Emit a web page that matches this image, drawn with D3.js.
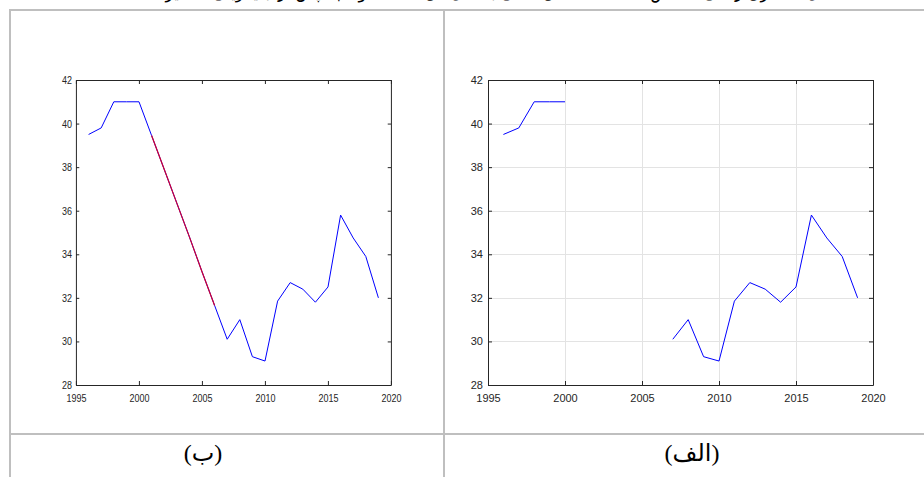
<!DOCTYPE html>
<html>
<head>
<meta charset="utf-8">
<script src="https://cdn.jsdelivr.net/npm/d3@7"></script>
<style>
  body { margin: 0; background: #fff; }
  svg { display: block; }
</style>
</head>
<body>
<svg id="fig"></svg>
<script>
const svgWidth = 924;
const svgHeight = 477;

// data
var years = [1996, 1997, 1998, 1999, 2000, 2001, 2002, 2003, 2004, 2005, 2006, 2007,
             2008, 2009, 2010, 2011, 2012, 2013, 2014, 2015, 2016, 2017, 2018, 2019];
// (الف) series with the missing years
var rawValues = [39.5, 39.8, 41, 41, 41, null, null, null, null, null, null, 30.1,
                 31.0, 29.3, 29.1, 31.85, 32.7, 32.4, 31.8, 32.5, 35.8, 34.75, 33.9, 32.0];
// (ب) values put in for the missing years
var filledYears = [2001, 2002, 2003, 2004, 2005, 2006];
var filledValues = [39.45, 37.9, 36.35, 34.8, 33.2, 31.65];

var xTicks = [1995, 2000, 2005, 2010, 2015, 2020];
var yTicks = [28, 30, 32, 34, 36, 38, 40, 42];
var panelLabels = ["(ب)", "(الف)"];
var caption = "شکل ۲: سری زمانی شاخص؛ (الف) داده‌های اصلی با سال‌های گمشده و (ب) پس از جایگزینی مقادیر گمشده";

const plotW = 385;
const plotH = 305;
const axisColor = "#262626";

var svg = d3.select("#fig")
    .attr("width", svgWidth)
    .attr("height", svgHeight);

svg.append("rect").attr("width", svgWidth).attr("height", svgHeight).attr("fill", "#fff");

// caption above the table, only its lower edge is inside the picture
svg.append("text")
    .attr("x", 842)
    .attr("y", -2)
    .attr("direction", "rtl")
    .attr("text-anchor", "start")
    .attr("font-family", "DejaVu Sans")
    .attr("font-size", 18)
    .attr("textLength", 730)
    .attr("lengthAdjust", "spacingAndGlyphs")
    .attr("fill", "#000")
    .text(caption);

// table lines
var tbl = svg.append("g").attr("stroke", "#bfbfbf").attr("stroke-width", 2);
tbl.append("line").attr("x1", 9).attr("x2", svgWidth).attr("y1", 10).attr("y2", 10);
tbl.append("line").attr("x1", 10).attr("x2", 10).attr("y1", 9).attr("y2", svgHeight);
tbl.append("line").attr("x1", 444).attr("x2", 444).attr("y1", 9).attr("y2", svgHeight);
tbl.append("line").attr("x1", 9).attr("x2", svgWidth).attr("y1", 434).attr("y2", 434);

var x = d3.scaleLinear().domain([1995, 2020]).range([0, plotW]);
var y = d3.scaleLinear().domain([28, 42]).range([plotH, 0]);

function drawPanel(g, grid) {
    if (grid) {
        var gg = g.append("g").attr("stroke", "#e3e3e3").attr("stroke-width", 1);
        gg.selectAll(".vx").data(xTicks.slice(1, -1)).enter().append("line")
            .attr("x1", d => Math.round(x(d)) + 0.5).attr("x2", d => Math.round(x(d)) + 0.5)
            .attr("y1", 0).attr("y2", plotH);
        gg.selectAll(".hy").data(yTicks.slice(1, -1)).enter().append("line")
            .attr("x1", 0).attr("x2", plotW)
            .attr("y1", d => Math.round(y(d)) + 0.5).attr("y2", d => Math.round(y(d)) + 0.5);
    }

    var axes = [
        [d3.axisBottom(x).tickValues(xTicks).tickFormat(d3.format("d")), [0, plotH], true],
        [d3.axisTop(x).tickValues(xTicks), [0, 0], false],
        [d3.axisLeft(y).tickValues(yTicks).tickFormat(d3.format("d")), [0, 0], true],
        [d3.axisRight(y).tickValues(yTicks), [plotW, 0], false]
    ];
    axes.forEach(function(a) {
        var ax = a[0].tickSizeInner(-4).tickSizeOuter(0).tickPadding(5);
        var sel = g.append("g")
            .attr("transform", "translate(" + a[1][0] + "," + a[1][1] + ")")
            .call(ax);
        sel.select(".domain").attr("stroke", axisColor).attr("vector-effect", "non-scaling-stroke");
        sel.selectAll(".tick line").attr("stroke", axisColor).attr("vector-effect", "non-scaling-stroke");
        if (a[2]) {
            sel.selectAll(".tick text")
                .attr("fill", axisColor)
                .attr("font-family", "Liberation Sans, Arial, sans-serif")
                .attr("font-size", 11);
        } else {
            sel.selectAll(".tick text").remove();
        }
    });
}

var line = d3.line()
    .defined(d => d[1] != null)
    .x(d => x(d[0]))
    .y(d => y(d[1]));

// right panel (الف): gaps left open
var gA = svg.append("g").attr("transform", "translate(488,80)");
drawPanel(gA, true);
gA.append("path")
    .datum(years.map((yr, i) => [yr, rawValues[i]]))
    .attr("d", line)
    .attr("fill", "none")
    .attr("stroke", "#0000ff")
    .attr("stroke-width", 1);

// left panel (ب): same plot, narrower
var gB = svg.append("g").attr("transform", "translate(76,80) scale(" + (315 / plotW) + ",1)");
drawPanel(gB, false);
var fullB = years.map(function(yr, i) {
    var k = filledYears.indexOf(yr);
    return [yr, k >= 0 ? filledValues[k] : rawValues[i]];
});
gB.append("path")
    .datum(fullB)
    .attr("d", line)
    .attr("fill", "none")
    .attr("stroke", "#0000ff")
    .attr("stroke-width", 1)
    .attr("vector-effect", "non-scaling-stroke");
gB.append("path")
    .datum(filledYears.map((yr, i) => [yr, filledValues[i]]))
    .attr("d", line)
    .attr("fill", "none")
    .attr("stroke", "#cc0033")
    .attr("stroke-width", 1.2)
    .attr("vector-effect", "non-scaling-stroke");

// x labels sit a bit lower than d3's default
svg.selectAll(".tick text").each(function() {
    var t = d3.select(this);
    if (t.attr("dy") === "0.71em") t.attr("y", 9);
});

// panel labels under each chart
svg.selectAll(".plabel")
    .data(panelLabels)
    .enter().append("text")
    .attr("x", (d, i) => i === 0 ? 203 : 692)
    .attr("y", 461)
    .attr("text-anchor", "middle")
    .attr("direction", "rtl")
    .attr("font-family", "Liberation Serif, DejaVu Sans, serif")
    .attr("font-size", 24)
    .attr("fill", "#000")
    .text(d => d);
</script>
</body>
</html>
